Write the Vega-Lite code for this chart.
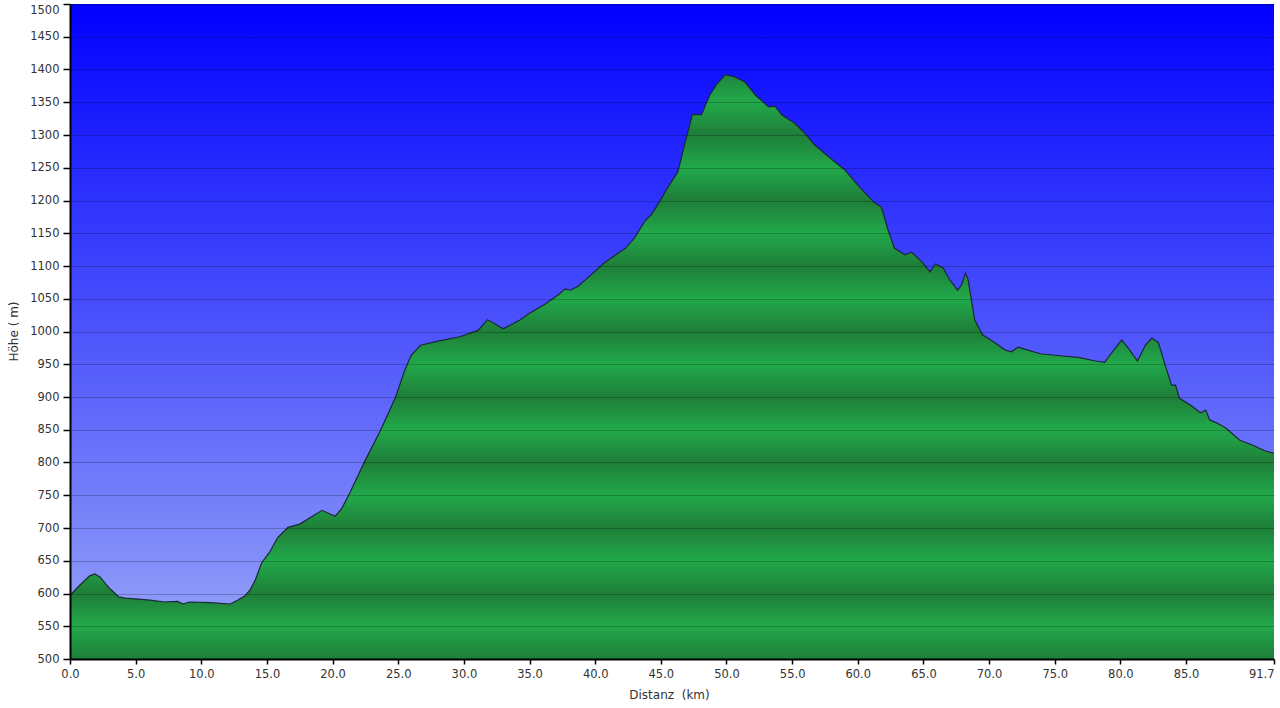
{
  "$schema": "https://vega.github.io/schema/vega-lite/v6.json",
  "autosize": {"type": "none"},
  "width": 1204,
  "height": 655,
  "padding": {"left": 70, "top": 4, "right": 6, "bottom": 49},
  "background": "white",
  "config": {
    "view": {"stroke": null},
    "axis": {
      "labelFont": "DejaVu Sans",
      "titleFont": "DejaVu Sans",
      "labelFontSize": 11.5,
      "titleFontSize": 12,
      "titleFontWeight": "normal",
      "labelColor": "#333333",
      "titleColor": "#333333",
      "domainColor": "#000000",
      "domainWidth": 2,
      "tickColor": "#000000",
      "tickWidth": 1.5
    },
    "axisX": {
      "format": ".1f",
      "grid": false,
      "tickSize": 5,
      "labelPadding": 4,
      "labelFlush": false,
      "labelOverlap": false,
      "titleX": 599,
      "titleY": 35,
      "titleBaseline": "middle"
    },
    "axisY": {
      "format": "d",
      "tickSize": 7,
      "labelPadding": 4,
      "labelFlush": false,
      "labelOverlap": false,
      "titleX": -57,
      "titleY": 327,
      "titleAngle": -90,
      "titleAlign": "center",
      "titleBaseline": "middle"
    }
  },
  "data": {
    "values": [
      {"km": 0.0, "h": 597}, {"km": 0.76, "h": 613}, {"km": 1.5, "h": 627}, {"km": 1.9, "h": 630},
      {"km": 2.3, "h": 625}, {"km": 3.0, "h": 608}, {"km": 3.7, "h": 595}, {"km": 4.2, "h": 593},
      {"km": 6.1, "h": 590}, {"km": 7.2, "h": 587}, {"km": 8.2, "h": 588}, {"km": 8.6, "h": 584},
      {"km": 9.1, "h": 587}, {"km": 10.7, "h": 586}, {"km": 12.2, "h": 584}, {"km": 12.8, "h": 590},
      {"km": 13.3, "h": 596}, {"km": 13.7, "h": 605}, {"km": 14.1, "h": 620}, {"km": 14.6, "h": 647},
      {"km": 15.2, "h": 663}, {"km": 15.8, "h": 685}, {"km": 16.6, "h": 701}, {"km": 17.5, "h": 706},
      {"km": 18.3, "h": 716}, {"km": 19.2, "h": 727}, {"km": 20.2, "h": 718}, {"km": 20.7, "h": 730},
      {"km": 21.3, "h": 753}, {"km": 22.5, "h": 804}, {"km": 23.6, "h": 847}, {"km": 24.8, "h": 900},
      {"km": 25.5, "h": 941}, {"km": 26.0, "h": 964}, {"km": 26.7, "h": 979}, {"km": 28.2, "h": 986},
      {"km": 29.7, "h": 992}, {"km": 31.1, "h": 1002}, {"km": 31.8, "h": 1018}, {"km": 32.4, "h": 1011},
      {"km": 33.0, "h": 1004}, {"km": 34.3, "h": 1018}, {"km": 35.0, "h": 1028}, {"km": 36.2, "h": 1042},
      {"km": 37.2, "h": 1056}, {"km": 37.7, "h": 1065}, {"km": 38.1, "h": 1063}, {"km": 38.7, "h": 1069},
      {"km": 39.6, "h": 1085}, {"km": 40.7, "h": 1105}, {"km": 42.3, "h": 1127}, {"km": 43.0, "h": 1143},
      {"km": 43.8, "h": 1169}, {"km": 44.3, "h": 1179}, {"km": 44.9, "h": 1198}, {"km": 45.5, "h": 1219},
      {"km": 46.3, "h": 1244}, {"km": 46.8, "h": 1285}, {"km": 47.4, "h": 1331}, {"km": 48.1, "h": 1331},
      {"km": 48.7, "h": 1360}, {"km": 49.2, "h": 1376}, {"km": 49.9, "h": 1392}, {"km": 50.6, "h": 1389},
      {"km": 51.4, "h": 1381}, {"km": 52.2, "h": 1361}, {"km": 53.2, "h": 1343}, {"km": 53.7, "h": 1344},
      {"km": 54.2, "h": 1331}, {"km": 55.2, "h": 1318}, {"km": 56.0, "h": 1302}, {"km": 56.7, "h": 1285},
      {"km": 57.9, "h": 1265}, {"km": 59.0, "h": 1247}, {"km": 60.2, "h": 1219}, {"km": 61.3, "h": 1196},
      {"km": 61.8, "h": 1190}, {"km": 62.3, "h": 1155}, {"km": 62.8, "h": 1127}, {"km": 63.6, "h": 1117},
      {"km": 64.1, "h": 1121}, {"km": 64.9, "h": 1106}, {"km": 65.5, "h": 1091}, {"km": 65.9, "h": 1103},
      {"km": 66.5, "h": 1097}, {"km": 67.0, "h": 1079}, {"km": 67.6, "h": 1063}, {"km": 67.9, "h": 1071},
      {"km": 68.2, "h": 1089}, {"km": 68.4, "h": 1079}, {"km": 68.9, "h": 1018}, {"km": 69.5, "h": 995},
      {"km": 70.5, "h": 982}, {"km": 71.2, "h": 972}, {"km": 71.7, "h": 969}, {"km": 72.2, "h": 976},
      {"km": 72.7, "h": 973}, {"km": 73.9, "h": 966}, {"km": 75.4, "h": 963}, {"km": 76.9, "h": 960},
      {"km": 78.1, "h": 955}, {"km": 78.8, "h": 953}, {"km": 79.4, "h": 969}, {"km": 80.1, "h": 987},
      {"km": 80.7, "h": 972}, {"km": 81.3, "h": 955}, {"km": 81.9, "h": 979}, {"km": 82.4, "h": 990},
      {"km": 82.9, "h": 983}, {"km": 83.4, "h": 949}, {"km": 83.9, "h": 918}, {"km": 84.2, "h": 918},
      {"km": 84.5, "h": 898}, {"km": 85.3, "h": 888}, {"km": 86.1, "h": 876}, {"km": 86.5, "h": 880},
      {"km": 86.8, "h": 865}, {"km": 87.4, "h": 860}, {"km": 88.0, "h": 853}, {"km": 89.1, "h": 834},
      {"km": 90.0, "h": 827}, {"km": 91.0, "h": 818}, {"km": 91.7, "h": 814}
    ]
  },
  "layer": [
    {
      "data": {"values": [{}]},
      "mark": {
        "type": "rect",
        "opacity": 1,
        "color": {
          "gradient": "linear", "x1": 0, "y1": 0, "x2": 0, "y2": 1,
          "stops": [
            {"offset": 0, "color": "#0000ff"},
            {"offset": 1, "color": "#9aa8f8"}
          ]
        }
      },
      "encoding": {
        "x": {
          "datum": 0, "type": "quantitative",
          "scale": {"domain": [0, 91.7], "nice": false, "zero": false},
          "axis": {
            "title": "Distanz\u00a0 (km)",
            "values": [0, 5, 10, 15, 20, 25, 30, 35, 40, 45, 50, 55, 60, 65, 70, 75, 80, 85, 91.7],
            "labelAlign": {"condition": {"test": "datum.value > 91", "value": "right"}, "value": "center"},
            "zindex": 2
          }
        },
        "x2": {"datum": 91.7},
        "y": {
          "datum": 500, "type": "quantitative",
          "scale": {"domain": [500, 1500], "nice": false, "zero": false},
          "axis": {
            "title": "Höhe ( m)",
            "values": [500, 550, 600, 650, 700, 750, 800, 850, 900, 950, 1000, 1050, 1100, 1150, 1200, 1250, 1300, 1350, 1400, 1450, 1500],
            "labelBaseline": {"condition": {"test": "datum.value > 1490", "value": "top"}, "value": "middle"},
            "grid": true,
            "gridColor": "#000000",
            "gridOpacity": 0.22,
            "gridWidth": 1,
            "zindex": 2
          }
        },
        "y2": {"datum": 1500}
      }
    },
    {
      "mark": {
        "type": "area",
        "opacity": 1,
        "fillOpacity": 1,
        "line": {"color": "#1a2838", "strokeWidth": 1.2},
        "color": {
          "gradient": "linear", "x1": 0, "y1": 0, "x2": 0, "y2": 1,
          "stops": [
            {"offset": 0, "color": "#1f853c"},
            {"offset": 0.0471, "color": "#22a94b"},
            {"offset": 0.1031, "color": "#1e7e38"},
            {"offset": 0.1592, "color": "#22a94b"},
            {"offset": 0.2152, "color": "#1e7e38"},
            {"offset": 0.2713, "color": "#22a94b"},
            {"offset": 0.3274, "color": "#1e7e38"},
            {"offset": 0.3834, "color": "#22a94b"},
            {"offset": 0.4395, "color": "#1e7e38"},
            {"offset": 0.4955, "color": "#22a94b"},
            {"offset": 0.5516, "color": "#1e7e38"},
            {"offset": 0.6076, "color": "#22a94b"},
            {"offset": 0.6637, "color": "#1e7e38"},
            {"offset": 0.7197, "color": "#22a94b"},
            {"offset": 0.7758, "color": "#1e7e38"},
            {"offset": 0.8318, "color": "#22a94b"},
            {"offset": 0.8879, "color": "#1e7e38"},
            {"offset": 0.9439, "color": "#22a94b"},
            {"offset": 1, "color": "#1e7e38"}
          ]
        }
      },
      "encoding": {
        "x": {
          "field": "km", "type": "quantitative",
          "scale": {"domain": [0, 91.7], "nice": false, "zero": false},
          "axis": {
            "title": "Distanz\u00a0 (km)",
            "values": [0, 5, 10, 15, 20, 25, 30, 35, 40, 45, 50, 55, 60, 65, 70, 75, 80, 85, 91.7],
            "labelAlign": {"condition": {"test": "datum.value > 91", "value": "right"}, "value": "center"},
            "zindex": 2
          }
        },
        "y": {
          "field": "h", "type": "quantitative",
          "scale": {"domain": [500, 1500], "nice": false, "zero": false},
          "axis": {
            "title": "Höhe ( m)",
            "values": [500, 550, 600, 650, 700, 750, 800, 850, 900, 950, 1000, 1050, 1100, 1150, 1200, 1250, 1300, 1350, 1400, 1450, 1500],
            "labelBaseline": {"condition": {"test": "datum.value > 1490", "value": "top"}, "value": "middle"},
            "grid": true,
            "gridColor": "#000000",
            "gridOpacity": 0.22,
            "gridWidth": 1,
            "zindex": 2
          }
        },
        "y2": {"datum": 500}
      }
    }
  ]
}
